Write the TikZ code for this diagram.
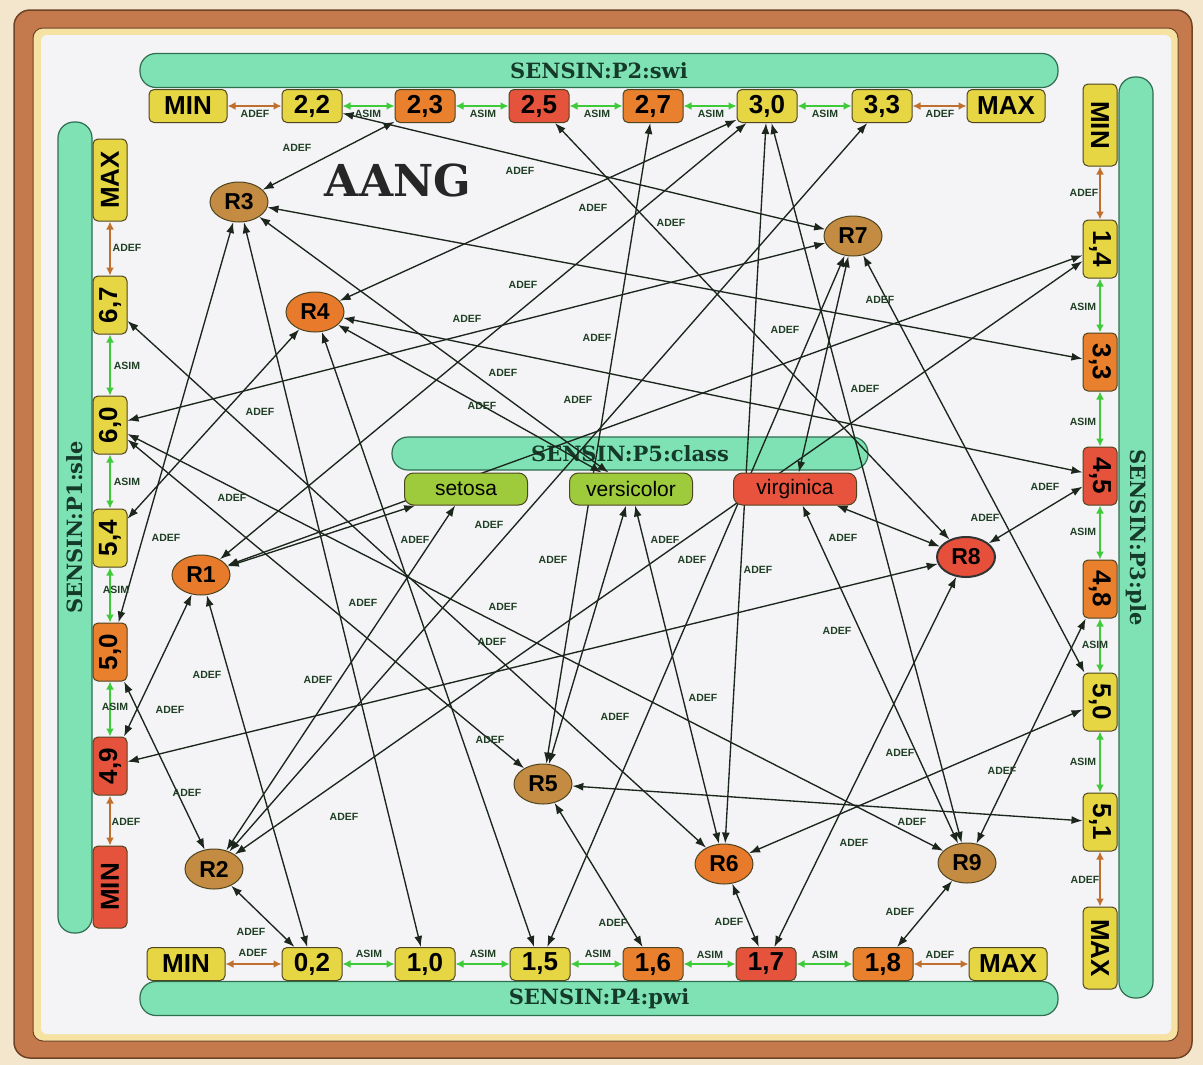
\documentclass[tikz,border=0pt]{standalone}
\usepackage{fontspec}
\setmainfont{Liberation Sans}
\newfontfamily\barfont{DejaVu Serif}
\usetikzlibrary{arrows.meta,shapes.geometric}
\definecolor{pagebg}{HTML}{F3E6CC}
\definecolor{frameB}{HTML}{C47A4C}
\definecolor{frameD}{HTML}{6E4326}
\definecolor{creamF}{HTML}{F6E3A4}
\definecolor{innerbg}{HTML}{F4F4F6}
\definecolor{mint}{HTML}{7EE2B4}
\definecolor{mintD}{HTML}{2F6E50}
\definecolor{bartext}{HTML}{153A2A}
\definecolor{vY}{HTML}{E6D644}
\definecolor{vO}{HTML}{E8802E}
\definecolor{vR}{HTML}{E6533C}
\definecolor{rB}{HTML}{C38C42}
\definecolor{rO}{HTML}{E87A2C}
\definecolor{rR}{HTML}{E6503A}
\definecolor{clG}{HTML}{9DCB3C}
\definecolor{clR}{HTML}{E8533E}
\definecolor{boxD}{HTML}{4E4420}
\definecolor{linec}{HTML}{1C261C}
\definecolor{labc}{HTML}{1F3F24}
\definecolor{asimc}{HTML}{3DCB3A}
\definecolor{adefc}{HTML}{C0702E}
\pgfdeclarelayer{bg}
\pgfdeclarelayer{edges}
\pgfsetlayers{bg,edges,main}
\tikzset{
  valbox/.style={draw=boxD, line width=1bp, rounded corners=5bp, minimum width=60bp, minimum height=33bp, inner sep=0pt, font=\fontsize{26bp}{28bp}\selectfont\bfseries},
  mmwide/.style={minimum width=78bp},
  vnum/.style={minimum width=58bp, minimum height=34bp},
  vwidebox/.style={minimum width=82bp, minimum height=34bp},
  cY/.style={fill=vY}, cO/.style={fill=vO}, cR/.style={fill=vR},
  lcol/.style={rotate=90}, rcol/.style={rotate=-90},
  rnode/.style={ellipse, draw=boxD, line width=1bp, minimum width=58bp, minimum height=40bp, inner sep=0pt, font=\fontsize{23bp}{25bp}\selectfont\bfseries},
  clnode/.style={draw=boxD, line width=1bp, rounded corners=9bp, minimum width=123bp, minimum height=32bp, inner sep=0pt, font=\fontsize{21bp}{23bp}\selectfont},
  sbar/.style={fill=mint, draw=mintD, line width=1.2bp, rounded corners=16bp, inner sep=0pt, minimum height=34bp, text=bartext, font=\barfont\bfseries\fontsize{21bp}{23bp}\selectfont},
  conn/.style={draw=linec, line width=1.35bp, >={Latex[length=11bp,width=8bp]}, <->},
  asim/.style={draw=asimc, line width=1.8bp, >={Latex[length=8bp,width=8bp]}, <->},
  adefv/.style={draw=adefc, line width=1.8bp, >={Latex[length=8bp,width=8bp]}, <->},
  lab/.style={inner sep=0pt, text=labc, font=\fontsize{10.5bp}{11bp}\selectfont\bfseries},
}
\begin{document}
\begin{tikzpicture}[x=1bp,y=-1bp]
\useasboundingbox (0,0) rectangle (1203,1065);
\begin{pgfonlayer}{bg}
\fill[pagebg] (0,0) rectangle (1203,1065);
\draw[fill=frameB, draw=frameD, line width=1.5bp, rounded corners=16bp] (14,10) rectangle (1192,1058);
\draw[fill=creamF, draw=frameD, line width=1bp, rounded corners=10bp] (33,28) rectangle (1178,1041);
\fill[innerbg, rounded corners=6bp] (41,35) rectangle (1171,1034);
\node[sbar, minimum width=918bp] (p2) at (599,70.5) {SENSIN:P2:swi};
\node[sbar, minimum width=918bp] (p4) at (599,998.5) {SENSIN:P4:pwi};
\node[sbar, minimum width=811bp, rotate=90] (p1) at (75,527.5) {SENSIN:P1:sle};
\node[sbar, minimum width=921bp, rotate=-90] (p3) at (1136,537.5) {SENSIN:P3:ple};
\node[sbar, minimum width=476bp, minimum height=33bp] (p5) at (630,453.5) {SENSIN:P5:class};
\end{pgfonlayer}

\node[font=\barfont\bfseries\fontsize{44bp}{46bp}\selectfont, text=black!85] (title) at (398,180) {AANG};

% top row (swi)
\node[valbox, mmwide, cY] (tmin) at (188,106) {MIN};
\node[valbox, cY] (t22) at (312,106) {2,2};
\node[valbox, cO] (t23) at (425,106) {2,3};
\node[valbox, cR] (t25) at (539,106) {2,5};
\node[valbox, cO] (t27) at (653,106) {2,7};
\node[valbox, cY] (t30) at (767,106) {3,0};
\node[valbox, cY] (t33) at (882,106) {3,3};
\node[valbox, mmwide, cY] (tmax) at (1006,106) {MAX};
% bottom row (pwi)
\node[valbox, mmwide, cY] (bmin) at (186,964) {MIN};
\node[valbox, cY] (b02) at (312,964) {0,2};
\node[valbox, cY] (b10) at (425,964) {1,0};
\node[valbox, cY] (b15) at (540,964) {1,5};
\node[valbox, cO] (b16) at (653,964) {1,6};
\node[valbox, cR] (b17) at (766,964) {1,7};
\node[valbox, cO] (b18) at (883,964) {1,8};
\node[valbox, mmwide, cY] (bmax) at (1008,964) {MAX};
% left column (sle)
\node[valbox, vwidebox, lcol, cY] (lmax) at (110,180) {MAX};
\node[valbox, vnum, lcol, cY] (l67) at (110,305) {6,7};
\node[valbox, vnum, lcol, cY] (l60) at (110,425) {6,0};
\node[valbox, vnum, lcol, cY] (l54) at (110,538) {5,4};
\node[valbox, vnum, lcol, cO] (l50) at (110,652) {5,0};
\node[valbox, vnum, lcol, cR] (l49) at (110,766) {4,9};
\node[valbox, vwidebox, lcol, cR] (lmin) at (110,887) {MIN};
% right column (ple)
\node[valbox, vwidebox, rcol, cY] (rmin) at (1100,125) {MIN};
\node[valbox, vnum, rcol, cY] (r14) at (1100,249) {1,4};
\node[valbox, vnum, rcol, cO] (r33) at (1100,362) {3,3};
\node[valbox, vnum, rcol, cR] (r45) at (1100,476) {4,5};
\node[valbox, vnum, rcol, cO] (r48) at (1100,589) {4,8};
\node[valbox, vnum, rcol, cY] (r50) at (1100,702) {5,0};
\node[valbox, vnum, rcol, cY] (r51) at (1100,822) {5,1};
\node[valbox, vwidebox, rcol, cY] (rmax) at (1100,948) {MAX};
% class
\node[clnode, fill=clG] (cset) at (466,489) {setosa};
\node[clnode, fill=clG] (cver) at (631,489) {versicolor};
\node[clnode, fill=clR] (cvir) at (795,489) {virginica};
% neurons
\node[rnode, fill=rO] (R1) at (201,575) {R1};
\node[rnode, fill=rB] (R2) at (214,869) {R2};
\node[rnode, fill=rB] (R3) at (239,202) {R3};
\node[rnode, fill=rO] (R4) at (315,312) {R4};
\node[rnode, fill=rB] (R5) at (543,784) {R5};
\node[rnode, fill=rO] (R6) at (724,864) {R6};
\node[rnode, fill=rB] (R7) at (853,236) {R7};
\node[rnode, fill=rR, line width=2bp, draw=black!80] (R8) at (966,557) {R8};
\node[rnode, fill=rB] (R9) at (967,863) {R9};

% neighbour links
\draw[adefv] (tmin) -- (t22);
\draw[asim] (t22) -- (t23); \draw[asim] (t23) -- (t25); \draw[asim] (t25) -- (t27);
\draw[asim] (t27) -- (t30); \draw[asim] (t30) -- (t33);
\draw[adefv] (t33) -- (tmax);
\draw[adefv] (bmin) -- (b02);
\draw[asim] (b02) -- (b10); \draw[asim] (b10) -- (b15); \draw[asim] (b15) -- (b16);
\draw[asim] (b16) -- (b17); \draw[asim] (b17) -- (b18);
\draw[adefv] (b18) -- (bmax);
\draw[adefv] (lmax) -- (l67);
\draw[asim] (l67) -- (l60); \draw[asim] (l60) -- (l54); \draw[asim] (l54) -- (l50); \draw[asim] (l50) -- (l49);
\draw[adefv] (l49) -- (lmin);
\draw[adefv] (rmin) -- (r14);
\draw[asim] (r14) -- (r33); \draw[asim] (r33) -- (r45); \draw[asim] (r45) -- (r48);
\draw[asim] (r48) -- (r50); \draw[asim] (r50) -- (r51);
\draw[adefv] (r51) -- (rmax);

\foreach \t/\a/\b [count=\i] in {ADEF/255/114, ASIM/368/114, ASIM/483/114, ASIM/597/114, ASIM/711/114, ASIM/825/114, ADEF/940/114,
  ADEF/253/953, ASIM/369/954, ASIM/483/954, ASIM/598/954, ASIM/710/955, ASIM/825/955, ADEF/940/955,
  ADEF/127/248, ASIM/127/366, ASIM/127/482, ASIM/116/590, ASIM/115/707, ADEF/126/822,
  ADEF/1084/193, ASIM/1083/307, ASIM/1083/422, ASIM/1083/532, ASIM/1095/645, ASIM/1083/762, ADEF/1085/880}
  \node[lab] (nl\i) at (\a,\b) {\t};

% neuron connections
\begin{pgfonlayer}{edges}
\foreach \r/\pa/\pb/\pc/\pd/\pe in {R1/l49/t30/r14/b02/cset, R2/l50/t33/r14/b02/cset, R3/l50/t23/r33/b10/cver,
  R4/l54/t30/r45/b15/cver, R5/l60/t27/r51/b16/cver, R6/l67/t30/r50/b17/cver,
  R7/l60/t22/r50/b15/cvir, R8/l49/t25/r45/b17/cvir, R9/l60/t30/r48/b18/cvir}
{
  \draw[conn] (\r) -- (\pa);
  \draw[conn] (\r) -- (\pb);
  \draw[conn] (\r) -- (\pc);
  \draw[conn] (\r) -- (\pd);
  \draw[conn] (\r) -- (\pe);
}
\end{pgfonlayer}

\foreach \a/\b [count=\i] in {297/148, 520/171, 593/208, 671/223, 523/285, 467/319, 597/338, 503/373, 578/400, 482/406,
  260/412, 785/330, 880/300, 865/389, 232/498, 166/538, 415/540, 489/525, 553/560, 665/540,
  692/560, 758/570, 843/538, 985/518, 1045/487, 363/603, 503/607, 492/642, 837/631, 207/675,
  318/680, 170/710, 615/717, 703/698, 490/740, 187/793, 344/817, 900/753, 1002/771, 912/822,
  854/843, 900/912, 729/922, 613/923, 251/932}
  \node[lab] (el\i) at (\a,\b) {ADEF};
\end{tikzpicture}
\end{document}
